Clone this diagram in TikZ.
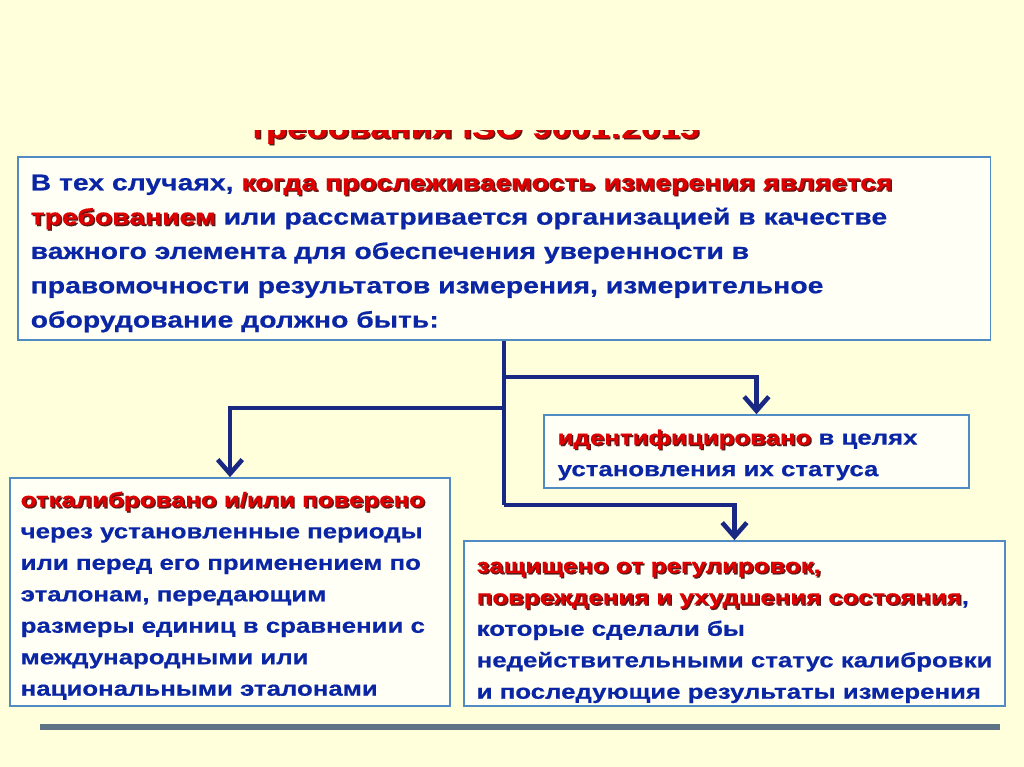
\documentclass[tikz,border=0pt]{standalone}
\usepackage{fontspec}
\setmainfont{Liberation Sans}[FakeStretch=1.25,BoldFeatures={FakeBold=0.6}]
\usetikzlibrary{arrows.meta}
\definecolor{bg}{RGB}{255,255,220}
\definecolor{tblue}{RGB}{10,38,165}
\definecolor{tred}{RGB}{222,0,0}
\definecolor{shd}{RGB}{90,25,25}
\definecolor{navy}{RGB}{25,40,130}
\definecolor{bord}{RGB}{80,140,195}
\definecolor{boxfill}{RGB}{255,255,245}
\definecolor{rulec}{RGB}{95,115,135}
\newcommand\rt[1]{\leavevmode\rlap{\kern0.4pt\raisebox{-0.4pt}{\textcolor{shd}{#1}}}\textcolor{tred}{#1}}
\begin{document}
\begin{tikzpicture}[x=0.01cm,y=-0.01cm,
  box/.style={draw=bord,line width=0.45pt,fill=boxfill,rectangle,inner sep=0pt},
  txt/.style={anchor=north west,inner sep=0pt,align=left,text=tblue,font=\bfseries\fontsize{5.87}{8.95}\selectfont},
  maintxt/.style={txt,font=\bfseries\fontsize{6.45}{9.76}\selectfont},
  conn/.style={draw=navy,line width=1.3pt},
  arr/.style={conn,-{Straight Barb[length=4pt,width=7pt]}},
  titletxt/.style={anchor=base,inner sep=0pt,font=\bfseries\fontsize{7.95}{9}\selectfont}]
\useasboundingbox (0,0) rectangle (1024,767);
\fill[bg] (0,0) rectangle (1024,767);
% partly hidden title
\begin{scope}
  \clip (0,131) rectangle (1024,150);
  \node[titletxt] (title) at (474,138) {\rt{требования ISO 9001:2015}};
\end{scope}
% boxes
\node[box,minimum width=9.72cm,minimum height=1.83cm] (m) at (504,248.5) {};
\node[box,minimum width=4.25cm,minimum height=0.73cm] (id) at (756.5,451.5) {};
\node[box,minimum width=4.40cm,minimum height=2.28cm] (lb) at (230,592) {};
\node[box,minimum width=5.41cm,minimum height=1.65cm] (rb) at (734.5,623.5) {};
% texts
\node[maintxt] (mt) at (30,174) {В тех случаях, \rt{когда прослеживаемость измерения является}\\
\rt{требованием} или рассматривается организацией в качестве\\
важного элемента для обеспечения уверенности в\\
правомочности результатов измерения, измерительное\\
оборудование должно быть:};
\node[txt] (idt) at (557,429) {\rt{идентифицировано} в целях\\
установления их статуса};
\node[txt] (lbt) at (20,491) {\rt{откалибровано и/или поверено}\\
через установленные периоды\\
или перед его применением по\\
эталонам, передающим\\
размеры единиц в сравнении с\\
международными или\\
национальными эталонами};
\node[txt] (rbt) at (476,561) {\rt{защищено от регулировок,}\\
\rt{повреждения и ухудшения состояния},\\
которые сделали бы\\
недействительными статус калибровки\\
и последующие результаты измерения};
% connectors
\coordinate (j1) at (m.south |- 0,377);
\coordinate (j2) at (m.south |- 0,408);
\coordinate (j3) at (m.south |- 0,505);
\draw[conn] (m.south) -- (j3);
\draw[arr] (j1) -| (id.north);
\draw[arr] (j2) -| (lb.north);
\draw[arr] (j3) -| (rb.north);
% bottom rule
\coordinate (r1) at (40,727);
\coordinate (r2) at (1000,727);
\draw[draw=rulec,line width=1.5pt] (r1) -- (r2);
\end{tikzpicture}
\end{document}
